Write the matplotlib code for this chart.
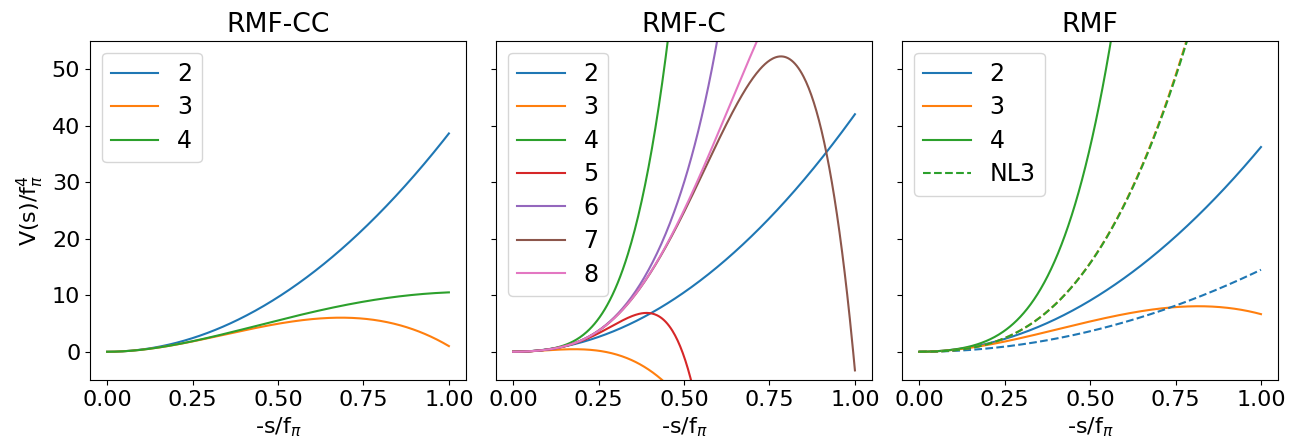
import numpy as np
import matplotlib
matplotlib.use("Agg")
import matplotlib.pyplot as plt

plt.rcParams["font.size"] = 16
plt.rcParams["legend.fontsize"] = 17
plt.rcParams["legend.labelspacing"] = 0.4

# expansion coefficients of V(s)/f_pi^4 in powers of x = -s/f_pi (x^2, x^3, ...)
coef_rmf_cc = [38.6, -37.6, 9.5]
coef_rmf_c = [42.0, -156.6, 1453.0, -2643.0, 1971.0, -669.7, 83.5]
coef_rmf = [36.2, -29.55, 493.0]
coef_nl3 = [14.5, 96.5, -1.0]

orders_rmf_cc = [2, 3, 4]
orders_rmf_c = [2, 3, 4, 5, 6, 7, 8]
orders_rmf = [2, 3, 4]
orders_nl3 = [2, 3, 4]

titles = ["RMF-CC", "RMF-C", "RMF"]

x = np.linspace(0, 1, 400)


def potential(coefs, order):
    """Truncated series sum_{n=2}^{order} c_n x^n."""
    v = np.zeros_like(x)
    for n, c in zip(range(2, order + 1), coefs):
        v += c * x**n
    return v


fig, axes = plt.subplots(1, 3, figsize=(12.97, 4.45), dpi=100, sharey=True)
fig.subplots_adjust(left=0.0694, right=0.9854, top=0.9085, bottom=0.146, wspace=0.08)

panels = [
    (coef_rmf_cc, orders_rmf_cc),
    (coef_rmf_c, orders_rmf_c),
    (coef_rmf, orders_rmf),
]

for ax, title, (coefs, orders) in zip(axes, titles, panels):
    for i, n in enumerate(orders):
        ax.plot(x, potential(coefs, n), color=f"C{i}", label=str(n))
    ax.set_title(title)
    ax.set_xlabel(r"-s/f$_\pi$")

# NL3 parametrisation, dashed, in the RMF panel
ax = axes[2]
for i, n in enumerate(orders_nl3):
    lab = "NL3" if n == orders_nl3[-1] else None
    ax.plot(x, potential(coef_nl3, n), "--", color=f"C{i}", label=lab)

for ax in axes:
    ax.legend(loc="upper left")
    ax.set_ylim(-5, 55)
    ax.set_xticks([0, 0.25, 0.5, 0.75, 1.0])

axes[0].set_ylabel(r"V(s)/f$_\pi^4$")

fig.savefig("out.png")
